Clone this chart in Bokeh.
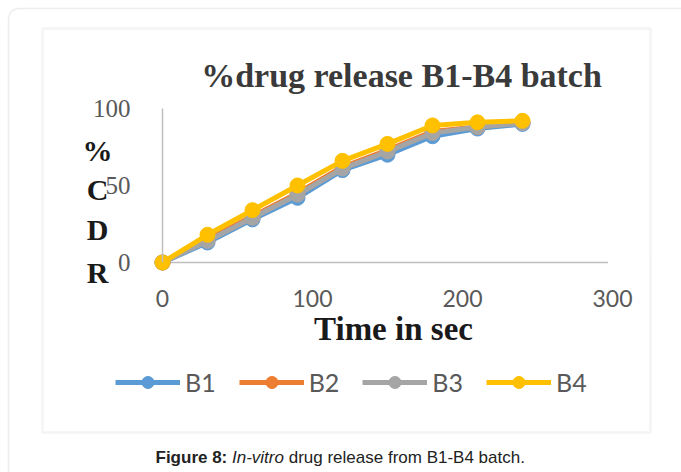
from bokeh.plotting import figure
from bokeh.models import Range1d, FixedTicker, Label, Legend, LegendItem, BoxAnnotation
from bokeh.embed import file_html
from bokeh.resources import INLINE

# Cumulative % drug release of batches B1-B4 over time (sec)
times = [0, 30, 60, 90, 120, 150, 180, 210, 240]
b1 = [0, 13, 28, 42, 60, 70, 82, 87, 90]
b2 = [0, 15, 30, 45, 62, 73, 85, 88, 91]
b3 = [0, 14, 29, 44, 61, 72, 84, 88, 90.5]
b4 = [0, 18, 34, 50, 66, 77, 89, 91, 92]
series_names = ["B1", "B2", "B3", "B4"]
series_colors = ["#5B9BD5", "#ED7D31", "#A5A5A5", "#FFC000"]
x_ticks = [0, 100, 200, 300]
y_ticks = [0, 50, 100]

W, H = 681, 472
# pixel position of the data origin and pixels per data unit
X0, Y0 = 162, 262
KX, KY = 1.5, 1.54


def sy(y):
    # canvas row -> frame-relative screen y (origin bottom-left)
    return H - y


p = figure(width=W, height=H, output_backend="svg", toolbar_location=None,
           x_range=Range1d(-X0 / KX, (W - X0) / KX),
           y_range=Range1d(-(H - Y0) / KY, Y0 / KY),
           min_border_left=0, min_border_right=0,
           min_border_top=0, min_border_bottom=0)
p.outline_line_color = None
p.xgrid.grid_line_color = None
p.ygrid.grid_line_color = None
p.background_fill_color = "white"
p.border_fill_color = "white"

# panel borders
p.add_layout(BoxAnnotation(left=8, right=740, top=sy(8), bottom=-60,
                           left_units="screen", right_units="screen",
                           top_units="screen", bottom_units="screen",
                           fill_color=None, line_color="#c4c4c4", line_width=1.5,
                           border_radius=10, level="underlay"))
p.add_layout(BoxAnnotation(left=42, right=650, top=sy(28), bottom=sy(432),
                           left_units="screen", right_units="screen",
                           top_units="screen", bottom_units="screen",
                           fill_color=None, line_color="#d9d9d9", line_width=2.5,
                           level="underlay"))

# x axis line (the axis itself spans a little wider so its title sits centred)
p.segment(x0=[0], y0=[0], x1=[297], y1=[0], line_color="#bfbfbf", line_width=1.5)

items = []
for name, ys, col in zip(series_names, [b1, b2, b3, b4], series_colors):
    ln = p.line(times, ys, line_color=col, line_width=5)
    sc = p.scatter(times, ys, size=15, fill_color=col, line_color=col)
    items.append(LegendItem(label=name, renderers=[ln, sc]))

xa = p.xaxis[0]
xa.fixed_location = 0
xa.bounds = (0, 308)
xa.ticker = FixedTicker(ticks=x_ticks)
xa.axis_line_color = None
xa.major_tick_line_color = None
xa.minor_tick_line_color = None
xa.major_label_text_font = "Lato"
xa.major_label_text_font_size = "23px"
xa.major_label_text_color = "#595959"
xa.major_label_standoff = 21
xa.axis_label = "Time in sec"
xa.axis_label_text_font = "Liberation Serif"
xa.axis_label_text_font_style = "bold"
xa.axis_label_text_font_size = "33px"
xa.axis_label_text_color = "#1a1a1a"
xa.axis_label_standoff = 1

ya = p.yaxis[0]
ya.fixed_location = 0
ya.bounds = (0, 100)
ya.ticker = FixedTicker(ticks=y_ticks)
ya.axis_line_color = "#bfbfbf"
ya.axis_line_width = 1.5
ya.major_tick_line_color = None
ya.minor_tick_line_color = None
ya.major_label_text_font = "Liberation Serif"
ya.major_label_text_font_size = "25px"
ya.major_label_text_color = "#595959"
ya.major_label_standoff = 26

# title
p.add_layout(Label(x=401, y=sy(75), x_units="screen", y_units="screen",
                   text="%drug release B1-B4 batch", text_font="Liberation Serif",
                   text_font_style="bold", text_font_size="34px", text_color="#3a3a3a",
                   text_align="center", text_baseline="middle"))

# stacked y-axis title
for ch, cy in zip(["%", "C", "D", "R"], [150, 189, 229, 272]):
    p.add_layout(Label(x=97, y=sy(cy), x_units="screen", y_units="screen",
                       text=ch, text_font="Liberation Serif", text_font_style="bold",
                       text_font_size="30px", text_color="#1a1a1a",
                       text_align="center", text_baseline="middle"))

legend = Legend(items=items, orientation="horizontal", location=(115, sy(397)),
                glyph_width=65, glyph_height=30, label_standoff=5, spacing=23,
                padding=0, margin=0, border_line_color=None, background_fill_alpha=0,
                label_text_font="Lato", label_text_font_size="25px",
                label_text_color="#595959")
p.add_layout(legend, "center")

# caption
cap_y = sy(457)
p.add_layout(Label(x=155, y=cap_y, x_units="screen", y_units="screen",
                   text="Figure 8:", text_font="Liberation Sans", text_font_style="bold",
                   text_font_size="17px", text_color="#222222", text_baseline="middle"))
p.add_layout(Label(x=231.5, y=cap_y, x_units="screen", y_units="screen",
                   text="In-vitro", text_font="Liberation Sans", text_font_style="italic",
                   text_font_size="17px", text_color="#222222", text_baseline="middle"))
p.add_layout(Label(x=288.2, y=cap_y, x_units="screen", y_units="screen",
                   text="drug release from B1-B4 batch.", text_font="Liberation Sans",
                   text_font_size="17px", text_color="#222222", text_baseline="middle"))

open("out.html", "w").write(file_html(p, INLINE))
